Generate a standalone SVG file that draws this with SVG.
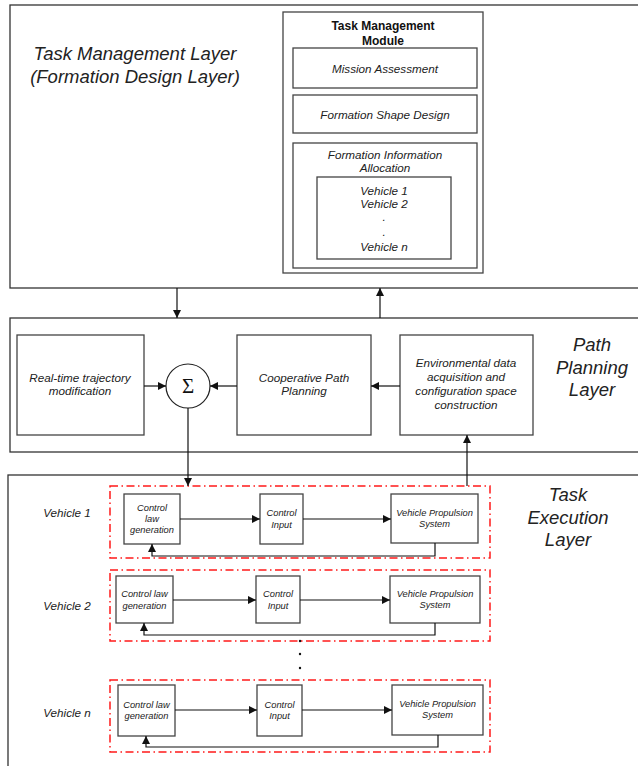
<svg xmlns="http://www.w3.org/2000/svg" width="638" height="766" viewBox="0 0 638 766">
<defs>
<marker id="ah" viewBox="0 0 10 10" refX="10" refY="5" markerWidth="9" markerHeight="8" markerUnits="userSpaceOnUse" orient="auto">
<path d="M0,0 L10,5 L0,10 z" fill="#111"/>
</marker>
<style>
.layer{fill:#fff;stroke:#333;stroke-width:1.3}
.box{fill:#fff;stroke:#444;stroke-width:1.3}
.red{fill:none;stroke:#ff1a1a;stroke-width:1.5;stroke-dasharray:8 3.5 1.5 3.5}
.t{font-family:"Liberation Sans",Arial,sans-serif;font-style:italic;fill:#222;text-anchor:middle}
.big{font-size:18.5px}
.mid{font-size:11.7px}
.sm{font-size:9.3px}
.b{font-family:"Liberation Sans",Arial,sans-serif;font-weight:bold;font-size:12px;fill:#111;text-anchor:middle}
.c{fill:none;stroke:#111;stroke-width:1.2}
.ca{fill:none;stroke:#111;stroke-width:1.2;marker-end:url(#ah)}
</style>
</defs>

<g id="task-management-layer">
<rect class="layer" x="10" y="5" width="640" height="283"/>
<text class="t big" x="135" y="60">Task Management Layer</text>
<text class="t big" x="135" y="83">(Formation Design Layer)</text>
</g>

<g id="task-management-module">
<rect class="box" x="283" y="12" width="200" height="261"/>
<text class="b" x="383" y="30">Task Management</text>
<text class="b" x="383" y="45">Module</text>
</g>
<g id="mission-assessment">
<rect class="box" x="293" y="48" width="184" height="40"/>
<text class="t mid" x="385" y="73">Mission Assessment</text>
</g>
<g id="formation-shape-design">
<rect class="box" x="293" y="95" width="184" height="38"/>
<text class="t mid" x="385" y="119">Formation Shape Design</text>
</g>
<g id="formation-information-allocation">
<rect class="box" x="293" y="143" width="184" height="125"/>
<text class="t mid" x="385" y="159">Formation Information</text>
<text class="t mid" x="385" y="172">Allocation</text>
</g>
<g id="vehicle-list">
<rect class="box" x="317" y="177" width="134" height="82"/>
<text class="t mid" x="384" y="195">Vehicle 1</text>
<text class="t mid" x="384" y="208">Vehicle 2</text>
<text class="t mid" x="384" y="221">.</text>
<text class="t mid" x="384" y="236">.</text>
<text class="t mid" x="384" y="251">Vehicle n</text>
</g>

<g id="path-planning-layer">
<rect class="layer" x="10" y="318" width="640" height="134"/>
<text class="t big" x="592" y="351">Path</text>
<text class="t big" x="592" y="374">Planning</text>
<text class="t big" x="592" y="396">Layer</text>
</g>
<g id="real-time-trajectory">
<rect class="box" x="17" y="335" width="127" height="100"/>
<text class="t mid" x="80" y="382">Real-time trajectory</text>
<text class="t mid" x="80" y="395">modification</text>
</g>
<g id="sum">
<circle cx="188" cy="386" r="22" fill="#fff" stroke="#222" stroke-width="1.2"/>
<text x="188" y="393" font-family="Liberation Serif, serif" font-size="21" fill="#111" text-anchor="middle">Σ</text>
</g>
<g id="cooperative-path-planning">
<rect class="box" x="237" y="335" width="134" height="100"/>
<text class="t mid" x="304" y="382">Cooperative Path</text>
<text class="t mid" x="304" y="395">Planning</text>
</g>
<g id="environmental-data">
<rect class="box" x="400" y="335" width="133" height="100"/>
<text class="t mid" x="466" y="367">Environmental data</text>
<text class="t mid" x="466" y="381">acquisition and</text>
<text class="t mid" x="466" y="395">configuration space</text>
<text class="t mid" x="466" y="409">construction</text>
</g>

<g id="task-execution-layer">
<rect class="layer" x="8" y="475" width="650" height="320"/>
<text class="t big" x="568" y="501">Task</text>
<text class="t big" x="568" y="524">Execution</text>
<text class="t big" x="568" y="546">Layer</text>
</g>

<g id="vehicle-1">
<text class="t mid" x="67" y="517">Vehicle 1</text>
<rect class="red" x="110" y="486" width="380" height="72"/>
<rect class="box" x="124" y="494" width="56" height="50"/>
<text class="t sm" x="152" y="511">Control</text>
<text class="t sm" x="152" y="522">law</text>
<text class="t sm" x="152" y="533">generation</text>
<rect class="box" x="260" y="494" width="43" height="50"/>
<text class="t sm" x="281.5" y="516">Control</text>
<text class="t sm" x="281.5" y="528">Input</text>
<rect class="box" x="391" y="494" width="87" height="49"/>
<text class="t sm" x="434.5" y="516">Vehicle Propulsion</text>
<text class="t sm" x="434.5" y="527">System</text>
</g>

<g id="vehicle-2">
<text class="t mid" x="67" y="610">Vehicle 2</text>
<rect class="red" x="110" y="570" width="380" height="71"/>
<rect class="box" x="116" y="576" width="57" height="47"/>
<text class="t sm" x="144.5" y="597">Control law</text>
<text class="t sm" x="144.5" y="609">generation</text>
<rect class="box" x="256" y="576" width="44" height="47"/>
<text class="t sm" x="278" y="597">Control</text>
<text class="t sm" x="278" y="609">Input</text>
<rect class="box" x="390" y="576" width="90" height="47"/>
<text class="t sm" x="435" y="597">Vehicle Propulsion</text>
<text class="t sm" x="435" y="608">System</text>
</g>

<g id="ellipsis">
<circle cx="300" cy="641" r="1.2" fill="#111"/>
<circle cx="300" cy="654" r="1.2" fill="#111"/>
<circle cx="300" cy="668" r="1.2" fill="#111"/>
</g>

<g id="vehicle-n">
<text class="t mid" x="67" y="717">Vehicle n</text>
<rect class="red" x="110" y="680" width="380" height="72"/>
<rect class="box" x="118" y="685" width="57" height="51"/>
<text class="t sm" x="146.5" y="708">Control law</text>
<text class="t sm" x="146.5" y="719">generation</text>
<rect class="box" x="257" y="685" width="45" height="51"/>
<text class="t sm" x="279.5" y="708">Control</text>
<text class="t sm" x="279.5" y="719">Input</text>
<rect class="box" x="392" y="685" width="91" height="50"/>
<text class="t sm" x="437.5" y="707">Vehicle Propulsion</text>
<text class="t sm" x="437.5" y="718">System</text>
</g>

<g id="connectors">
<line class="ca" x1="177" y1="288" x2="177" y2="318"/>
<line class="ca" x1="380" y1="318" x2="380" y2="288"/>
<line class="ca" x1="144" y1="386" x2="166" y2="386"/>
<line class="ca" x1="237" y1="386" x2="210" y2="386"/>
<line class="ca" x1="400" y1="386" x2="371" y2="386"/>
<line class="ca" x1="188" y1="408" x2="188" y2="486"/>
<line class="ca" x1="467" y1="486" x2="467" y2="435"/>

<line class="ca" x1="180" y1="519" x2="260" y2="519"/>
<line class="ca" x1="303" y1="519" x2="391" y2="519"/>
<polyline class="ca" points="435,543 435,556 152,556 152,544"/>

<line class="ca" x1="173" y1="600" x2="256" y2="600"/>
<line class="ca" x1="300" y1="600" x2="390" y2="600"/>
<polyline class="ca" points="435,623 435,635 144,635 144,623"/>

<line class="ca" x1="175" y1="710" x2="257" y2="710"/>
<line class="ca" x1="302" y1="710" x2="392" y2="710"/>
<polyline class="ca" points="438,735 438,747 146,747 146,736"/>
</g>
</svg>
